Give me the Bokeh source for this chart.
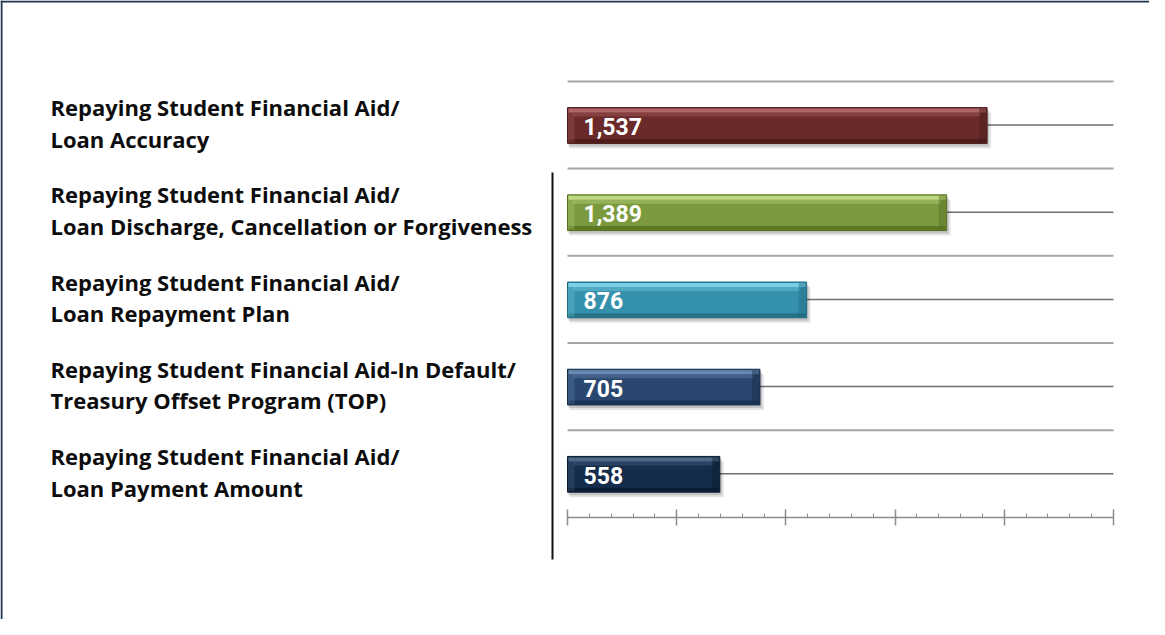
from bokeh.plotting import figure
from bokeh.models import Range1d, LinearAxis, SingleIntervalTicker, Span, CustomLabelingPolicy
from bokeh.core.properties import value
from bokeh.embed import file_html
from bokeh.resources import INLINE

# ---------------- data ----------------
categories = [
    "Repaying Student Financial Aid/\nLoan Accuracy",
    "Repaying Student Financial Aid/\nLoan Discharge, Cancellation or Forgiveness",
    "Repaying Student Financial Aid/\nLoan Repayment Plan",
    "Repaying Student Financial Aid-In Default/\nTreasury Offset Program (TOP)",
    "Repaying Student Financial Aid/\nLoan Payment Amount",
]
counts = [1537, 1389, 876, 705, 558]
count_labels = [f"{c:,}" for c in counts]
axis_min = 0
axis_max = 2000
tick_step = 400

# ---------------- styles ----------------
bar_main = ["#6a2a2a", "#7b9a3e", "#3590ab", "#2a486f", "#152c4a"]
bar_light = ["#b56b6b", "#c3df8c", "#83d6ec", "#6f8fb8", "#55708f"]
bar_dark = ["#4a1a1a", "#55701f", "#1f6a80", "#172d4c", "#0b1a2e"]

W, H = 1149, 619
PAGE = 8                 # page margin
FRAME_H = 619            # frame fills the whole canvas
X0_PAGE, XMAX_PAGE = 575, 1121
BAND = 87.2
CAT0_PAGE = 132.5

k = (XMAX_PAGE - X0_PAGE) / (axis_max - axis_min)
x_start = axis_min - (X0_PAGE - PAGE) / k
x_end = x_start + W / k
y_top = (PAGE - CAT0_PAGE) / BAND
y_bottom = y_top + FRAME_H / BAND


def px_x(page_x):
    return x_start + (page_x - PAGE) / k


def px_dy(px):
    return px / BAND


n = len(categories)
ys = list(range(n))

p = figure(width=W, height=H, output_backend="svg", toolbar_location=None,
           x_range=Range1d(x_start, x_end), y_range=Range1d(y_bottom, y_top),
           x_axis_location=None, y_axis_location=None,
           min_border=0, min_border_left=0, min_border_right=0,
           min_border_top=0, min_border_bottom=0)
p.outline_line_color = None
p.xgrid.visible = False
p.ygrid.visible = False
p.background_fill_color = "white"
p.border_fill_color = "white"

# horizontal separators and centre lines
p.segment(x0=[axis_min] * n, x1=[axis_max] * n, y0=[y - 0.5 for y in ys], y1=[y - 0.5 for y in ys],
          line_color="#a6a6a6", line_width=2)
p.segment(x0=[axis_min] * n, x1=[axis_max] * n, y0=ys, y1=ys,
          line_color="#6f6f6f", line_width=1.5)

# vertical dark rule left of the chart
p.segment(x0=[px_x(560)], x1=[px_x(560)], y0=[(180 - CAT0_PAGE) / BAND], y1=[(567 - CAT0_PAGE) / BAND],
          line_color="#111111", line_width=2)

# bars with a bevel look
bh = 0.41
ybar = [y + px_dy(0.5) for y in ys]
p.hbar(y=[y + px_dy(5) for y in ybar], left=[axis_min + 2 / k] * n, right=[c + 4 / k for c in counts],
       height=bh, fill_color="black", fill_alpha=0.10, line_color=None)
p.hbar(y=[y + px_dy(3) for y in ybar], left=[axis_min + 1 / k] * n, right=[c + 2 / k for c in counts],
       height=bh, fill_color="black", fill_alpha=0.15, line_color=None)
p.hbar(y=ybar, left=axis_min, right=counts, height=bh, fill_color=bar_main,
       line_color=bar_dark, line_width=1)
# top highlight
p.hbar(y=[y - bh / 2 + px_dy(3) for y in ybar], left=[axis_min + 1 / k] * n, right=[c - 1 / k for c in counts],
       height=px_dy(4), fill_color=bar_light, fill_alpha=0.9, line_color=None)
p.hbar(y=[y - bh / 2 + px_dy(7) for y in ybar], left=[axis_min + 6 / k] * n, right=[c - 6 / k for c in counts],
       height=px_dy(4), fill_color=bar_light, fill_alpha=0.35, line_color=None)
# bottom shade
p.hbar(y=[y + bh / 2 - px_dy(2.5) for y in ybar], left=[axis_min + 1 / k] * n, right=[c - 1 / k for c in counts],
       height=px_dy(4), fill_color=bar_dark, fill_alpha=0.8, line_color=None)
# right end bevel
p.hbar(y=ybar, left=[c - 8 / k for c in counts], right=[c - 0.5 / k for c in counts],
       height=bh - px_dy(2), fill_color=bar_dark, fill_alpha=0.45, line_color=None)
# left end bevel
p.hbar(y=ybar, left=[axis_min + 0.5 / k] * n, right=[axis_min + 7 / k] * n,
       height=bh - px_dy(2), fill_color=bar_light, fill_alpha=0.25, line_color=None)

# value labels
p.text(x=[axis_min] * n, y=ybar, text=count_labels, x_offset=16, y_offset=1,
       text_color="white", text_font=value("Roboto"), text_font_style="bold",
       text_font_size="23px", text_baseline="middle", text_align="left")

# category labels
p.text(x=[px_x(58)] * n, y=ys, text=categories, y_offset=-2,
       text_color="#0d0d0d", text_font=value("Open Sans"), text_font_style="bold",
       text_font_size="22px", text_baseline="middle", text_align="left", text_line_height=1.05)

# value axis (no tick labels, like the reference)
ax = LinearAxis(fixed_location=n - 0.5, bounds=(axis_min, axis_max),
                ticker=SingleIntervalTicker(interval=tick_step, num_minor_ticks=5),
                major_label_policy=CustomLabelingPolicy(code="return new Set()"))
ax.axis_line_color = "#8c8c8c"
ax.axis_line_width = 1.5
ax.major_tick_line_color = "#8c8c8c"
ax.major_tick_line_width = 1.5
ax.major_tick_in = 8
ax.major_tick_out = 8
ax.minor_tick_line_color = "#8c8c8c"
ax.minor_tick_line_width = 1
ax.minor_tick_in = 4
ax.minor_tick_out = 0
ax.major_label_standoff = 0
p.add_layout(ax, "below")

# frame border (left and top)
p.add_layout(Span(location=px_x(9), dimension="height", line_color="#1f3451", line_width=2))
p.add_layout(Span(location=y_top + px_dy(1), dimension="width", line_color="#1f3451", line_width=2))

open("out.html", "w").write(file_html(p, INLINE))
